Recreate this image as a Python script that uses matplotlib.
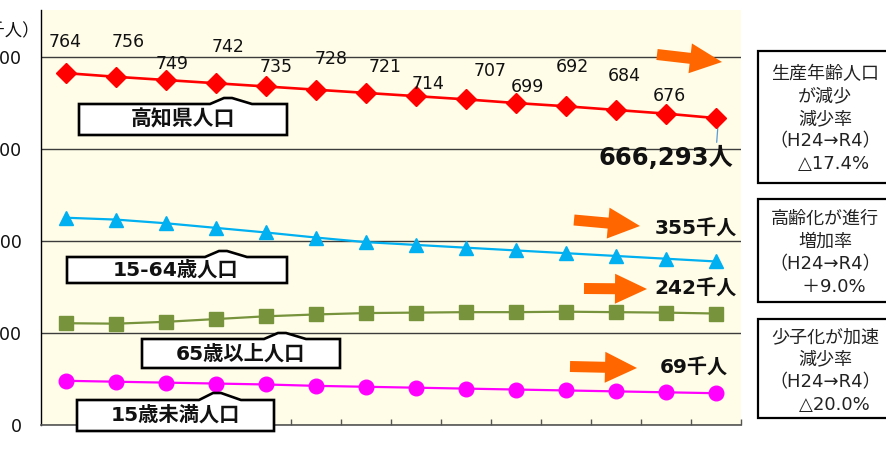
import numpy as np
import matplotlib
matplotlib.use("Agg")
import matplotlib.pyplot as plt
from matplotlib.patches import Polygon, Rectangle

# Population of Kochi prefecture (thousand people)
total = [764, 756, 749, 742, 735, 728, 721, 714, 707, 699, 692, 684, 676, 666.293]
working_age = [450, 446, 438, 428, 418, 407, 397, 391, 385, 379, 373, 367, 361, 355]
elderly = [221, 220, 224, 230, 236, 240, 243, 244, 245, 245, 246, 245, 244, 242]
children = [96, 94, 92, 90, 88, 85, 83, 81, 79, 77, 75, 73, 71, 69]
y_ticks = [0, 200, 400, 600, 800]

series_names = ["高知県人口", "15-64歳人口", "65歳以上人口", "15歳未満人口"]
unit_label = "（千人）"
note_boxes = [
    ["生産年齢人口", "が減少", "減少率", "（H24→R4）", "\u3000△17.4%"],
    ["高齢化が進行", "増加率", "（H24→R4）", "\u3000＋9.0%"],
    ["少子化が加速", "減少率", "（H24→R4）", "\u3000△20.0%"],
]

# pixel offsets of the value labels on the total line
label_offsets = [(-1, 31), (12, 35), (6, 16), (12, 36), (10, 19), (15, 31), (19, 26),
                 (12, 12), (24, 28), (12, 16), (6, 39), (8, 34), (3, 18)]

CJK = ["Noto Sans CJK JP", "DejaVu Sans"]
MIXED = ["DejaVu Sans", "Noto Sans CJK JP"]
plt.rcParams["font.family"] = MIXED

W, H = 887, 449
fig = plt.figure(figsize=(W / 100, H / 100), dpi=100)
fig.patch.set_facecolor("white")

ax_left, ax_right, ax_top, ax_bottom = 40.7, 741.0, 10.0, 425.0
ax = fig.add_axes([ax_left / W, 1 - ax_bottom / H, (ax_right - ax_left) / W, (ax_bottom - ax_top) / H])
ax.set_facecolor("#FFFDE8")

x = np.arange(len(total))
ax.set_xlim(-0.5, len(total) - 0.5)
ax.set_ylim(0, 901)

ax.plot(x, total, color="#FF0000", lw=1.9, marker="D", ms=10.5, zorder=5)
ax.plot(x, working_age, color="#00B0F0", lw=1.6, marker="^", ms=10.5, zorder=5)
ax.plot(x, elderly, color="#77933C", lw=1.6, marker="s", ms=10.5, zorder=5)
ax.plot(x, children, color="#FF00FF", lw=1.6, marker="o", ms=10.5, zorder=5)

for i, v in enumerate(total[:-1]):
    dx, dy = label_offsets[i]
    ax.annotate(f"{v:.0f}", xy=(i, v), xytext=(dx, dy), textcoords="offset pixels",
                ha="center", va="center", fontsize=12.5, color="#111111", zorder=6)

ax.annotate("", xy=(x[-1] + 0.05, total[-1]), xytext=(-2, -27), textcoords="offset pixels",
            arrowprops=dict(arrowstyle="-", color="#5B9BD5", lw=0.9), zorder=4)

ax.set_yticks(y_ticks)
ax.set_yticklabels([str(t) for t in y_ticks], fontsize=12.5, color="#111111")
ax.tick_params(axis="y", length=0, pad=13.5)
ax.grid(axis="y", color="#3c3c3c", lw=1.0)
ax.set_axisbelow(True)

ax.set_xticks(np.arange(len(total)) + 0.5)
ax.set_xticklabels([])
ax.tick_params(axis="x", direction="in", length=4, color="#555555", width=1)

for s in ["top", "right"]:
    ax.spines[s].set_visible(False)
ax.spines["left"].set_color("#000000")
ax.spines["left"].set_linewidth(1.0)
ax.spines["bottom"].set_color("#555555")
ax.spines["bottom"].set_linewidth(1.2)

# overlay in pixel coordinates for callouts, arrows and notes
ov = fig.add_axes([0, 0, 1, 1], zorder=10)
ov.set_xlim(0, W)
ov.set_ylim(H, 0)
ov.axis("off")
ov.patch.set_alpha(0)

ov.text(40, 31, unit_label, ha="right", va="center", fontsize=12.5, family=CJK, color="#111111")


def callout(x0, x1, y0, y1, px, py, left=18, right=24):
    pts = [(x0, y0), (px - left, y0), (px - 4, py), (px + 4, py), (px + right, y0),
           (x1, y0), (x1, y1), (x0, y1)]
    ov.add_patch(Polygon(pts, closed=True, fc="white", ec="black", lw=1.9, joinstyle="miter"))


def block_arrow(tail, tip, tw=5.5, hw=15.5, hl=32):
    tail = np.array(tail, float)
    tip = np.array(tip, float)
    d = tip - tail
    u = d / np.hypot(*d)
    n = np.array([-u[1], u[0]])
    base = tip - u * hl
    pts = [tail + n * tw, base + n * tw, base + n * hw, tip, base - n * hw, base - n * tw, tail - n * tw]
    ov.add_patch(Polygon(pts, closed=True, fc="#FF6600", ec="none"))


# series name callouts
boxes = [
    (79, 287, 104, 135, 228, 98, 183, 119, 15),
    (67, 287, 257, 283, 223, 251, 176, 270, 14.6),
    (142, 340, 339, 368, 282, 333, 240, 354, 14.6),
    (77, 274, 400, 431, 217, 393, 175, 415, 14.6),
]
for name, (x0, x1, y0, y1, px, py, tx, ty, fs) in zip(series_names, boxes):
    callout(x0, x1, y0, y1, px, py)
    ov.text(tx, ty, name, ha="center", va="center", fontsize=fs, fontweight="bold",
            family=MIXED, color="#111111")

# trend arrows
block_arrow((657, 54.5), (722, 62), hw=15)
block_arrow((574, 220), (640, 226))
block_arrow((584, 288.5), (647, 289), hw=15)
block_arrow((570, 366.5), (637, 368))

# latest values
ov.text(733, 158, f"{int(round(total[-1] * 1000)):,}人", ha="right", va="center",
        fontsize=17.5, fontweight="bold", family=MIXED, color="#111111")
ov.text(737, 229, f"{working_age[-1]}千人", ha="right", va="center",
        fontsize=14.5, fontweight="bold", family=MIXED, color="#111111")
ov.text(737, 289, f"{elderly[-1]}千人", ha="right", va="center",
        fontsize=14.5, fontweight="bold", family=MIXED, color="#111111")
ov.text(728, 368, f"{children[-1]}千人", ha="right", va="center",
        fontsize=14.5, fontweight="bold", family=MIXED, color="#111111")

# rate notes on the right
note_frames = [(51, 183, 74), (199, 302, 219), (319, 418, 337)]
for lines, (y0, y1, first) in zip(note_boxes, note_frames):
    ov.add_patch(Rectangle((758, y0), 140, y1 - y0, fc="white", ec="black", lw=1.6, clip_on=False))
    for k, line in enumerate(lines):
        ov.text(825, first + k * 22.5, line, ha="center", va="center", fontsize=13,
                family=MIXED, color="#222222")

fig.savefig("out.png", dpi=100)
